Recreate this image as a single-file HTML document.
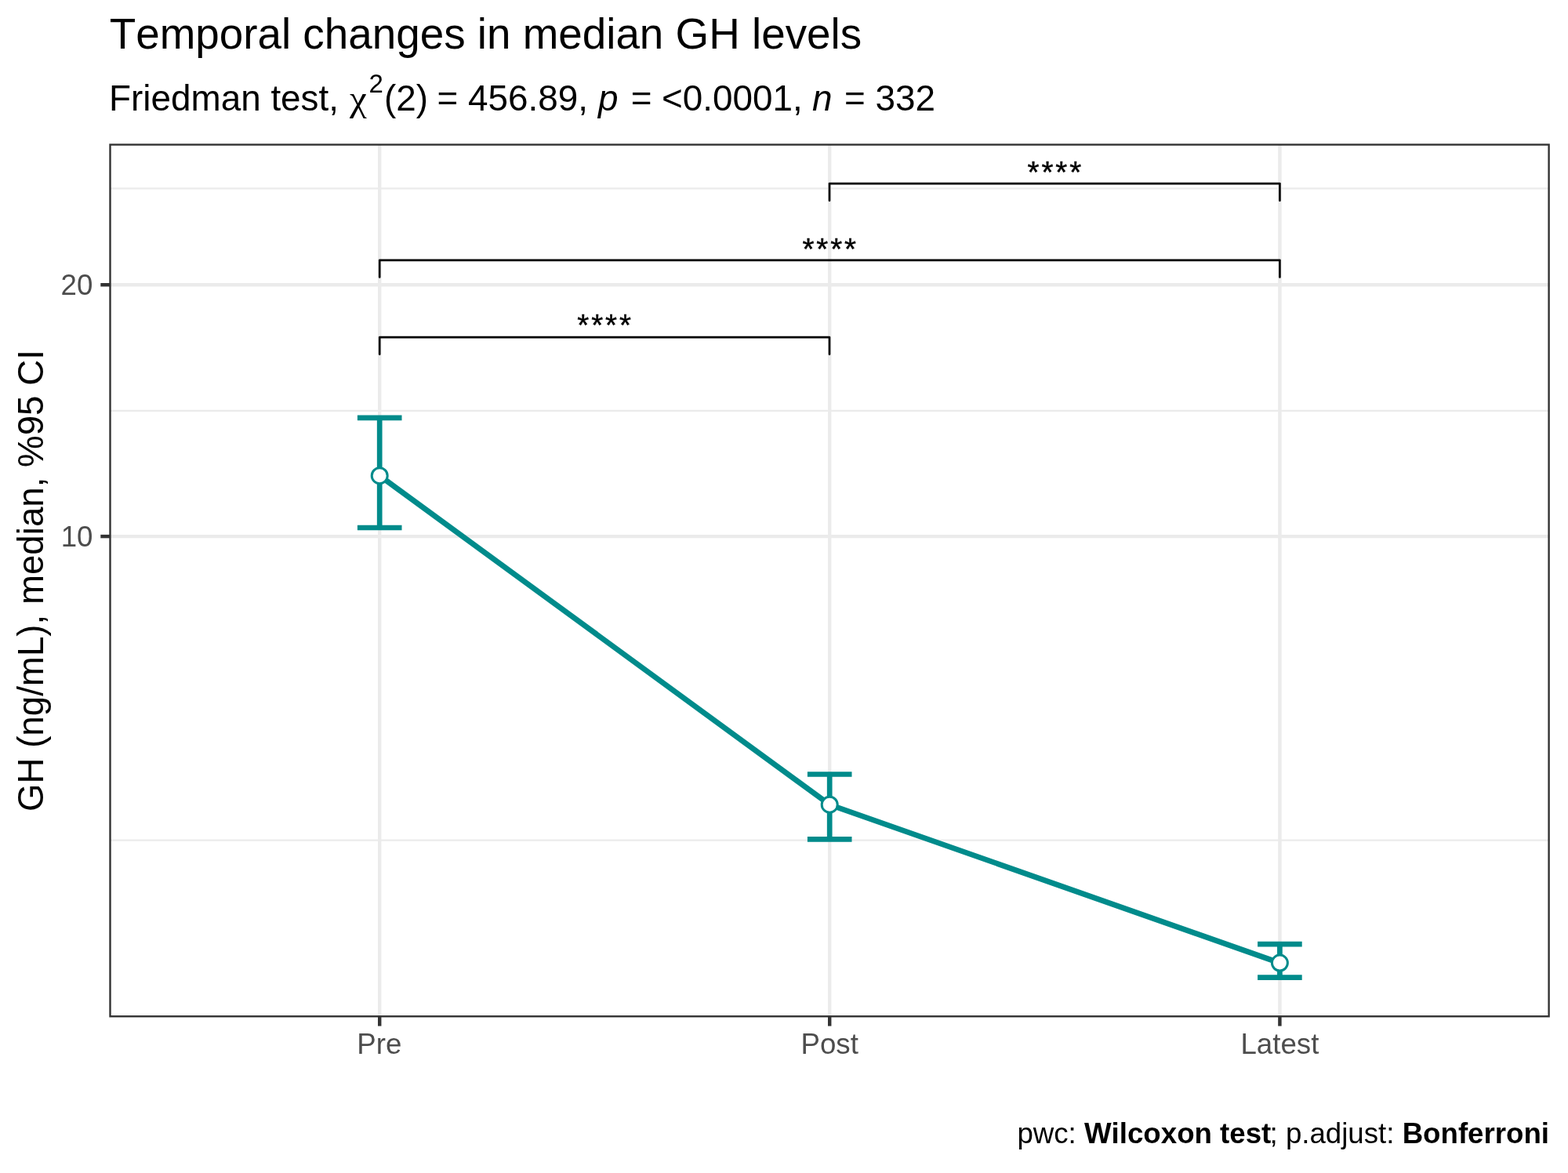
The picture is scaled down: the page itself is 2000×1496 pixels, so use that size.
<!DOCTYPE html>
<html lang="en">
<head>
<meta charset="utf-8">
<title>Temporal changes in median GH levels</title>
<style>
html,body{margin:0;padding:0;background:#fff;}
body{width:2000px;height:1496px;overflow:hidden;}
svg{display:block;}
text{font-family:"Liberation Sans",sans-serif;font-kerning:none;}
.ax{fill:#4d4d4d;font-size:36.67px;}
.star{fill:#000;font-size:38.5px;text-anchor:middle;letter-spacing:2.92px;stroke:#000;stroke-width:0.45px;}
</style>
</head>
<body>
<svg width="2000" height="1496" viewBox="0 0 2000 1496">
<rect x="0" y="0" width="2000" height="1496" fill="#ffffff"/>

<!-- gridlines -->
<g stroke="#ebebeb" fill="none">
  <g stroke-width="2.2">
    <line x1="140" x2="1977" y1="240.3" y2="240.3"/>
    <line x1="140" x2="1977" y1="523.8" y2="523.8"/>
    <line x1="140" x2="1977" y1="1071.6" y2="1071.6"/>
  </g>
  <g stroke-width="4.45">
    <line x1="140" x2="1977" y1="363.25" y2="363.25"/>
    <line x1="140" x2="1977" y1="684.1" y2="684.1"/>
    <line x1="484.2" x2="484.2" y1="184" y2="1297"/>
    <line x1="1058.2" x2="1058.2" y1="184" y2="1297"/>
    <line x1="1632.4" x2="1632.4" y1="184" y2="1297"/>
  </g>
</g>

<!-- data line -->
<polyline points="484.2,606.7 1058.2,1026.2 1632.4,1228.1" fill="none" stroke="#008b8b" stroke-width="7" stroke-linejoin="round" stroke-linecap="butt"/>

<!-- error bars -->
<g stroke="#008b8b" stroke-width="6.7" fill="none" stroke-linecap="butt" stroke-linejoin="miter">
  <path d="M455.9,532.9H512.5M484.2,532.9V673M455.9,673H512.5"/>
  <path d="M1029.9,987.5H1086.5M1058.2,987.5V1070.4M1029.9,1070.4H1086.5"/>
  <path d="M1604.1,1204.1H1660.7M1632.4,1204.1V1246.6M1604.1,1246.6H1660.7"/>
</g>

<!-- points -->
<g fill="#ffffff" stroke="#008b8b" stroke-width="3">
  <circle cx="484.2" cy="606.7" r="10"/>
  <circle cx="1058.2" cy="1026.2" r="10"/>
  <circle cx="1632.4" cy="1228.1" r="10"/>
</g>

<!-- brackets -->
<g stroke="#000" stroke-width="2.67" fill="none" stroke-linejoin="round" stroke-linecap="round">
  <path d="M1058,255.8V234.1H1632.4V255.8"/>
  <path d="M484.2,353.5V331.8H1632.4V353.5"/>
  <path d="M484.2,451.8V430.2H1058V451.8"/>
</g>
<text class="star" x="1346.3" y="232.9">****</text>
<text class="star" x="1059.2" y="330.5">****</text>
<text class="star" x="772.1" y="428.1">****</text>

<!-- panel border -->
<rect x="140.5" y="184.5" width="1835.1" height="1111.75" fill="none" stroke="#333333" stroke-width="2.4"/>

<!-- axis ticks -->
<g stroke="#333333" stroke-width="4.45">
  <line x1="128.3" x2="140" y1="363.25" y2="363.25"/>
  <line x1="128.3" x2="140" y1="684.1" y2="684.1"/>
  <line x1="484.2" x2="484.2" y1="1297" y2="1308.6"/>
  <line x1="1058.2" x2="1058.2" y1="1297" y2="1308.6"/>
  <line x1="1632.4" x2="1632.4" y1="1297" y2="1308.6"/>
</g>

<!-- axis text -->
<text class="ax" x="118.3" y="376.2" text-anchor="end">20</text>
<text class="ax" x="118.5" y="697.3" text-anchor="end">10</text>
<text class="ax" x="483.8" y="1343.8" text-anchor="middle">Pre</text>
<text class="ax" x="1058.2" y="1343.8" text-anchor="middle">Post</text>
<text class="ax" x="1632.4" y="1343.8" text-anchor="middle">Latest</text>

<!-- axis title -->
<text transform="translate(55,740.6) rotate(-90)" text-anchor="middle" font-size="45.68px" fill="#000">GH (ng/mL), median, %95 CI</text>

<!-- title -->
<text x="139.7" y="62" font-size="54.8px" fill="#000">Temporal changes in median GH levels</text>
<!-- subtitle -->
<g font-size="45.83px" fill="#000">
<text x="139.1" y="140.6">Friedman test,</text>
<text transform="translate(446,140.6) scale(1.07,1)" style="font-family:'Liberation Serif','DejaVu Serif',serif">χ</text>
<text x="470.6" y="118" font-size="33px">2</text>
<text x="490" y="140.6">(2)</text>
<text x="557.6" y="140.6">=</text>
<text x="597" y="140.6">456.89,</text>
<text x="763" y="140.6" font-style="italic">p</text>
<text x="804.8" y="140.6">=</text>
<text x="844" y="140.6">&lt;0.0001,</text>
<text x="1036" y="140.6" font-style="italic">n</text>
<text x="1077" y="140.6">=</text>
<text x="1116.6" y="140.6">332</text>
</g>

<!-- caption -->
<g font-size="36.67px" fill="#000" text-anchor="end">
<text x="1621.3" y="1458.2">pwc: <tspan font-weight="bold">Wilcoxon test</tspan></text>
<text x="1976" y="1458.2">; p.adjust: <tspan font-weight="bold">Bonferroni</tspan></text>
</g>
</svg>
</body>
</html>
